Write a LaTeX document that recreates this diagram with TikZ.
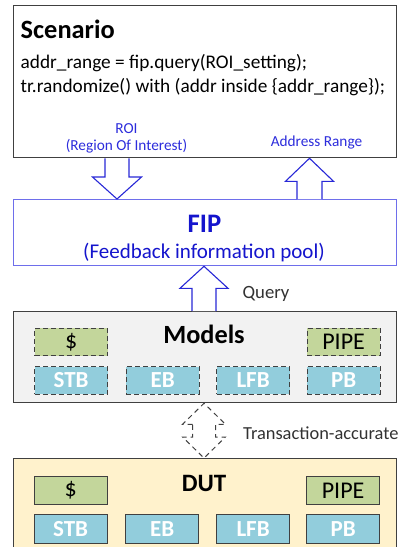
\documentclass[tikz,border=0pt]{standalone}
\usepackage{fontspec}
\setmainfont{Carlito}
\usetikzlibrary{calc}

\definecolor{frame}{RGB}{64,64,64}
\definecolor{fipline}{RGB}{110,110,235}
\definecolor{fiptext}{RGB}{20,20,205}
\definecolor{arrowblue}{RGB}{40,40,215}
\definecolor{labelblue}{RGB}{45,45,220}
\definecolor{modelsfill}{RGB}{242,242,242}
\definecolor{dutfill}{RGB}{255,242,204}
\definecolor{cachefill}{RGB}{195,214,155}
\definecolor{bufffill}{RGB}{146,205,220}
\definecolor{querytext}{RGB}{50,50,50}

\newcommand{\fsz}[1]{\fontsize{#1}{#1}\selectfont}

% vertical block arrow: style, tail, tip, shaft half width, head half width, head length
\newcommand{\vblockarrow}[6]{%
  \draw[#1] ($(#2)+(-#4,0)$) -- ($(#3)!#6pt!(#2)+(-#4,0)$)
    -- ($(#3)!#6pt!(#2)+(-#5,0)$) -- (#3)
    -- ($(#3)!#6pt!(#2)+(#5,0)$) -- ($(#3)!#6pt!(#2)+(#4,0)$)
    -- ($(#2)+(#4,0)$);}

\tikzset{
  panel/.style={draw, line width=1.3pt, anchor=north west, inner sep=0pt,
    minimum width=383pt},
  unit/.style={draw=frame, line width=1.2pt, anchor=north west, inner sep=0pt,
    minimum width=73pt, minimum height=27.5pt},
  cache/.style={unit, fill=cachefill, font=\fsz{24}},
  buff/.style={unit, fill=bufffill, text=white, font=\bfseries\fsz{23}},
  dashedunit/.style={dash pattern=on 5pt off 3pt},
  bluearrow/.style={draw=arrowblue, line width=1.1pt, fill=white, line join=miter},
  grayarrow/.style={draw=frame, line width=1pt, dash pattern=on 5pt off 4pt}
}

\begin{document}
\begin{tikzpicture}[x=1pt, y=-1pt]
\useasboundingbox (0,0) rectangle (408,547);
\fill[white] (0,0) rectangle (408,547);

% outer panels
\node[panel, draw=frame, minimum height=152pt] (scen) at (13,5) {};
\node[panel, draw=fipline, minimum height=66pt] (fip) at (13,199) {};
\node[panel, draw=frame, fill=modelsfill, minimum height=91pt] (models) at (13,311) {};
\node[panel, draw=frame, fill=dutfill, minimum height=100pt] (dut) at (13,458) {};

% scenario text
\node[anchor=base west, inner sep=0pt, font=\bfseries\fsz{26.4}] (scentitle) at (20.5,38) {Scenario};
\node[anchor=base west, inner sep=0pt, font=\fsz{19.3}] (code1) at (20.5,68.5) {addr\_range = fip.query(ROI\_setting);};
\node[anchor=base west, inner sep=0pt, font=\fsz{19.3}] (code2) at (20.5,92) {tr.randomize() with (addr inside \{addr\_range\});};
\node[anchor=base, inner sep=0pt, text=labelblue, font=\fsz{15.3}] (roi) at (126.5,133) {ROI};
\node[anchor=base, inner sep=0pt, text=labelblue, font=\fsz{15.3}] (roidesc) at (126.5,150.5) {(Region Of Interest)};
\node[anchor=base, inner sep=0pt, text=labelblue, font=\fsz{15.3}] (addrlabel) at (316.5,146.5) {Address Range};

% FIP text
\node[anchor=base, inner sep=0pt, text=fiptext, font=\bfseries\fsz{26.7}] (fiptitle) at (204.5,232) {FIP};
\node[anchor=base, inner sep=0pt, text=fiptext, font=\fsz{21}] (fipdesc) at (204,258) {(Feedback information pool)};

% block arrows between panels
\coordinate (roiX) at (117,0);
\coordinate (addrX) at (309.5,0);
\coordinate (qX) at (204,0);
\coordinate (roiTail) at (roiX |- scen.south);
\coordinate (roiTip) at (roiX |- fip.north);
\coordinate (addrTail) at (addrX |- fip.north);
\coordinate (addrTip) at (addrX |- scen.south);
\coordinate (qTail) at (qX |- models.north);
\coordinate (qTip) at (qX |- fip.south);
\vblockarrow{bluearrow}{roiTail}{roiTip}{12}{24.5}{22}
\vblockarrow{bluearrow}{addrTail}{addrTip}{12.5}{24}{23}
\vblockarrow{bluearrow}{qTail}{qTip}{12}{24}{22}
\node[anchor=base, inner sep=0pt, text=querytext, font=\fsz{18.7}] (query) at (266,298) {Query};

% models panel
\node[anchor=base, inner sep=0pt, font=\bfseries\fsz{26.3}] (modtitle) at (204,343) {Models};
\node[cache, dashedunit] (mcache) at (34,327.5) {\$};
\node[cache, dashedunit] (mpipe) at (306.5,327.5) {PIPE};
\node[buff, dashedunit] (mstb) at (34,366) {STB};
\node[buff, dashedunit] (meb) at (125.5,366) {EB};
\node[buff, dashedunit] (mlfb) at (216,366) {LFB};
\node[buff, dashedunit] (mpb) at (306.5,366) {PB};

% transaction-accurate link between models and DUT
\coordinate (tTop) at (qX |- models.south);
\coordinate (tBot) at (qX |- dut.north);
\draw[grayarrow] ($(tTop)!21pt!(tBot)+(-11.5,0)$) -- ($(tTop)!21pt!(tBot)+(-21.5,0)$)
  -- (tTop) -- ($(tTop)!21pt!(tBot)+(21.5,0)$) -- ($(tTop)!21pt!(tBot)+(11.5,0)$)
  -- ($(tBot)!21pt!(tTop)+(11.5,0)$) -- ($(tBot)!21pt!(tTop)+(21.5,0)$)
  -- (tBot) -- ($(tBot)!21pt!(tTop)+(-21.5,0)$) -- ($(tBot)!21pt!(tTop)+(-11.5,0)$)
  -- cycle;
\node[anchor=base west, inner sep=0pt, text=querytext, font=\fsz{18.4}] (trans) at (243,439) {Transaction-accurate};

% DUT panel
\node[anchor=base, inner sep=0pt, font=\bfseries\fsz{25}] (duttitle) at (204,491) {DUT};
\node[cache] (dcache) at (33.5,476) {\$};
\node[cache] (dpipe) at (306,476) {PIPE};
\node[buff, minimum height=29pt] (dstb) at (33.5,514) {STB};
\node[buff, minimum height=29pt] (deb) at (125,514) {EB};
\node[buff, minimum height=29pt] (dlfb) at (216,514) {LFB};
\node[buff, minimum height=29pt] (dpb) at (306,514) {PB};
\end{tikzpicture}
\end{document}
